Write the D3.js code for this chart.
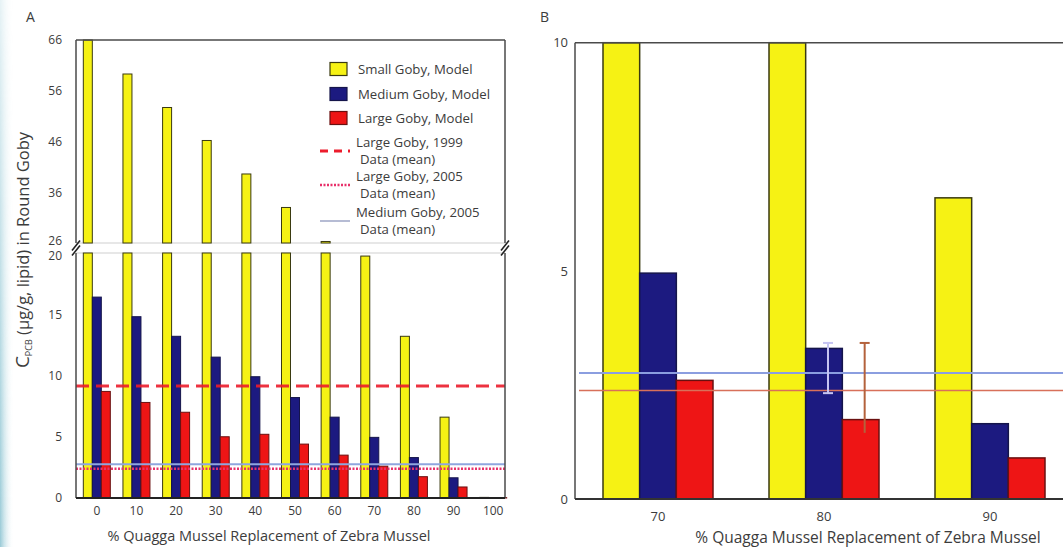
<!DOCTYPE html>
<meta charset="utf-8">
<style>
    body { margin: 0; background: #ffffff; }
    text { font-family: "Open Sans", sans-serif; fill: #3c3c3c; }
    .axisA .tick text { font-size: 12px; }
    .axisB .tick text { font-size: 13px; }
    .legend text { font-size: 13.2px; }
</style>
<svg width="1063" height="547"></svg>
<script src="https://cdn.jsdelivr.net/npm/d3@7/dist/d3.min.js"></script>
<script>

    // model output (ug/g lipid)
    var categories = [0, 10, 20, 30, 40, 50, 60, 70, 80, 90, 100];
    var smallModel = [66, 59.3, 52.7, 46.2, 39.6, 33.0, 26.3, 19.75, 13.2, 6.6, 0.05];
    var mediumModel = [16.4, 14.8, 13.2, 11.5, 9.9, 8.2, 6.6, 4.95, 3.3, 1.65, 0.04];
    var largeModel = [8.7, 7.8, 7.0, 5.0, 5.2, 4.4, 3.5, 2.6, 1.74, 0.9, 0.03];

    // field data means
    var large1999Mean = 9.15;
    var large2005Mean = 2.38;
    var medium2005Mean = 2.76;

    // 2005 data range, drawn at the 80% group in panel B
    var errCategory = 80;
    var mediumErr = [2.32, 3.42];
    var largeErr = [1.45, 3.42];

    var zoomCategories = [70, 80, 90];
    var lowerTicks = [0, 5, 10, 15, 20];
    var upperTicks = [26, 36, 46, 56, 66];
    var zoomTicks = [0, 5, 10];

    var series = ["small", "medium", "large"];
    var seriesLabels = ["Small Goby, Model", "Medium Goby, Model", "Large Goby, Model"];
    var fills = { small: "#f6f214", medium: "#1c1a80", large: "#ee1515" };
    var strokes = { small: "#3a3a10", medium: "#15154a", large: "#6a1010" };

    var rows = [];
    categories.forEach(function (c, i) {
        rows.push({ cat: c, key: "small", v: smallModel[i] });
        rows.push({ cat: c, key: "medium", v: mediumModel[i] });
        rows.push({ cat: c, key: "large", v: largeModel[i] });
    });

    var svg = d3.select("svg");

    // faint slide background on the left edge
    var defs = svg.append("defs");
    var grad = defs.append("linearGradient").attr("id", "edge")
        .attr("x1", 0).attr("x2", 1).attr("y1", 0).attr("y2", 0);
    grad.append("stop").attr("offset", 0).attr("stop-color", "#7dbccc").attr("stop-opacity", 0.8);
    grad.append("stop").attr("offset", 1).attr("stop-color", "#ffffff").attr("stop-opacity", 0);
    var vgrad = defs.append("linearGradient").attr("id", "edgeMask")
        .attr("x1", 0).attr("x2", 0).attr("y1", 0).attr("y2", 1);
    vgrad.append("stop").attr("offset", 0).attr("stop-color", "#fff").attr("stop-opacity", 0.25);
    vgrad.append("stop").attr("offset", 1).attr("stop-color", "#fff").attr("stop-opacity", 1);
    defs.append("mask").attr("id", "fade")
        .append("rect").attr("width", 20).attr("height", 547).attr("fill", "url(#edgeMask)");
    svg.append("rect").attr("width", 14).attr("height", 547)
        .attr("fill", "url(#edge)").attr("mask", "url(#fade)");

    // ---------------- panel A ----------------
    var aLeft = 76, aRight = 505, aTop = 40, aBottom = 498;

    var x = d3.scaleBand().domain(categories).range([77, 513]);
    var xs = d3.scaleBand().domain(series)
        .range([x.bandwidth() / 2 - 13.5, x.bandwidth() / 2 + 13.5]);
    var yLow = d3.scaleLinear().domain([0, 20]).range([aBottom, 253]);
    var yHigh = d3.scaleLinear().domain([26, 66]).range([243, aTop]);

    var gA = svg.append("g");

    // guide lines at the break
    gA.selectAll("line.brk")
        .data([yHigh(26), yLow(20)])
        .enter().append("line")
        .attr("x1", aLeft).attr("x2", aRight)
        .attr("y1", function (d) { return d; }).attr("y2", function (d) { return d; })
        .attr("stroke", "#cfcfcf").attr("stroke-width", 1);

    // lower part of the bars
    gA.append("g").selectAll("rect")
        .data(rows)
        .enter().append("rect")
        .attr("x", function (d) { return x(d.cat) + xs(d.key); })
        .attr("width", xs.bandwidth())
        .attr("y", function (d) { return yLow(Math.min(d.v, 20)); })
        .attr("height", function (d) { return yLow(0) - yLow(Math.min(d.v, 20)); })
        .attr("fill", function (d) { return fills[d.key]; })
        .attr("stroke", function (d) { return strokes[d.key]; })
        .attr("stroke-width", 1);

    // upper part of the bars, above the break
    gA.append("g").selectAll("rect")
        .data(rows.filter(function (d) { return d.v > 26; }))
        .enter().append("rect")
        .attr("x", function (d) { return x(d.cat) + xs(d.key); })
        .attr("width", xs.bandwidth())
        .attr("y", function (d) { return yHigh(Math.min(d.v, 66)); })
        .attr("height", function (d) { return yHigh(26) - yHigh(Math.min(d.v, 66)); })
        .attr("fill", function (d) { return fills[d.key]; })
        .attr("stroke", function (d) { return strokes[d.key]; })
        .attr("stroke-width", 1);

    // data means
    gA.append("line")
        .attr("x1", aLeft).attr("x2", aRight)
        .attr("y1", yLow(large1999Mean)).attr("y2", yLow(large1999Mean))
        .attr("stroke", "#ec1c2c").attr("stroke-width", 3)
        .attr("stroke-dasharray", "13,7").attr("opacity", 0.9);
    gA.append("line")
        .attr("x1", aLeft).attr("x2", aRight)
        .attr("y1", yLow(medium2005Mean)).attr("y2", yLow(medium2005Mean))
        .attr("stroke", "#8fa6de").attr("stroke-width", 2);
    gA.append("line")
        .attr("x1", aLeft).attr("x2", aRight)
        .attr("y1", yLow(large2005Mean)).attr("y2", yLow(large2005Mean))
        .attr("stroke", "#e8306a").attr("stroke-width", 2.5)
        .attr("stroke-dasharray", "2,1.5");

    // frame with break
    var frame = "#4a4a4a";
    [aLeft, aRight].forEach(function (xx) {
        gA.append("line").attr("x1", xx).attr("x2", xx)
            .attr("y1", aTop).attr("y2", yHigh(26)).attr("stroke", frame).attr("stroke-width", 1.5);
        gA.append("line").attr("x1", xx).attr("x2", xx)
            .attr("y1", yLow(20)).attr("y2", aBottom).attr("stroke", frame).attr("stroke-width", 1.5);
        [yHigh(26) + 2.5, yLow(20) - 2.5].forEach(function (yy) {
            gA.append("line")
                .attr("x1", xx - 4).attr("x2", xx + 4)
                .attr("y1", yy + 5).attr("y2", yy - 5)
                .attr("stroke", "#222").attr("stroke-width", 1.6);
        });
    });
    gA.append("line").attr("x1", aLeft).attr("x2", aRight)
        .attr("y1", aTop).attr("y2", aTop).attr("stroke", frame).attr("stroke-width", 1.5);
    gA.append("line").attr("x1", aLeft).attr("x2", aRight)
        .attr("y1", aBottom).attr("y2", aBottom).attr("stroke", "#222").attr("stroke-width", 2);

    // axes
    var ayLow = gA.append("g").attr("class", "axisA")
        .attr("transform", "translate(" + aLeft + ",0)")
        .call(d3.axisLeft(yLow).tickValues(lowerTicks).tickSize(0).tickPadding(14));
    var ayHigh = gA.append("g").attr("class", "axisA")
        .attr("transform", "translate(" + aLeft + ",0)")
        .call(d3.axisLeft(yHigh).tickValues(upperTicks).tickSize(0).tickPadding(14));
    var ax = gA.append("g").attr("class", "axisA")
        .attr("transform", "translate(0," + aBottom + ")")
        .call(d3.axisBottom(x).tickSize(0).tickPadding(8));
    gA.selectAll(".domain").remove();
    ayLow.select(".tick:last-of-type text").attr("dy", "0.55em");
    ayHigh.select(".tick:first-of-type text").attr("dy", "0.1em");

    gA.append("text")
        .attr("x", 269).attr("y", 541)
        .attr("text-anchor", "middle")
        .style("font-size", "14.5px")
        .text("% Quagga Mussel Replacement of Zebra Mussel");

    var yt = gA.append("text")
        .attr("transform", "translate(29,250) rotate(-90)")
        .attr("text-anchor", "middle")
        .style("font-size", "16.5px");
    yt.append("tspan").style("font-size", "19px").text("C");
    yt.append("tspan").attr("dy", 3).style("font-size", "9px").text("PCB");
    yt.append("tspan").attr("dy", -3).text(" (\u00b5g/g, lipid) in Round Goby");

    gA.append("text").attr("x", 26).attr("y", 22)
        .style("font-size", "14px").text("A");

    // legend
    var legend = gA.append("g").attr("class", "legend");
    var lx = 330, tx = 358;
    var swatchY = [69, 94, 118];
    series.forEach(function (s, i) {
        legend.append("rect")
            .attr("x", lx).attr("y", swatchY[i] - 6.5)
            .attr("width", 17).attr("height", 13)
            .attr("fill", fills[s]).attr("stroke", strokes[s]).attr("stroke-width", 1.2);
        legend.append("text").attr("x", tx).attr("y", swatchY[i]).attr("dy", "0.35em")
            .text(seriesLabels[i]);
    });
    var lineEntries = [
        { y: 151, lines: ["Large Goby, 1999", "Data (mean)"], stroke: "#ec1c2c", w: 3, dash: "8,6" },
        { y: 185, lines: ["Large Goby, 2005", "Data (mean)"], stroke: "#e8306a", w: 2.5, dash: "2,1.5" },
        { y: 221, lines: ["Medium Goby, 2005", "Data (mean)"], stroke: "#b6bcd4", w: 2, dash: null }
    ];
    lineEntries.forEach(function (e) {
        legend.append("line")
            .attr("x1", 320).attr("x2", 350)
            .attr("y1", e.y).attr("y2", e.y)
            .attr("stroke", e.stroke).attr("stroke-width", e.w)
            .attr("stroke-dasharray", e.dash);
        legend.append("text").attr("x", tx - 2).attr("y", e.y - 8.5).attr("dy", "0.35em").text(e.lines[0]);
        legend.append("text").attr("x", tx + 2).attr("y", e.y + 8.5).attr("dy", "0.35em").text(e.lines[1]);
    });

    // ---------------- panel B ----------------
    var bLeft = 575, bRight = 1063, bTop = 42.7, bBottom = 499;

    var xB = d3.scaleBand().domain(zoomCategories).range([bLeft, 1073]);
    var xsB = d3.scaleBand().domain(series)
        .range([xB.bandwidth() / 2 - 55, xB.bandwidth() / 2 + 55]);
    var yB = d3.scaleLinear().domain([0, 10]).range([bBottom, bTop]);

    var rowsB = rows.filter(function (d) { return zoomCategories.indexOf(d.cat) >= 0; });
    var gB = svg.append("g");

    gB.append("g").selectAll("rect")
        .data(rowsB)
        .enter().append("rect")
        .attr("x", function (d) { return xB(d.cat) + xsB(d.key); })
        .attr("width", xsB.bandwidth())
        .attr("y", function (d) { return yB(Math.min(d.v, 10)); })
        .attr("height", function (d) { return yB(0) - yB(Math.min(d.v, 10)); })
        .attr("fill", function (d) { return fills[d.key]; })
        .attr("stroke", function (d) { return strokes[d.key]; })
        .attr("stroke-width", 1.5);

    gB.append("line")
        .attr("x1", bLeft + 4).attr("x2", bRight)
        .attr("y1", yB(medium2005Mean)).attr("y2", yB(medium2005Mean))
        .attr("stroke", "#8b9ee0").attr("stroke-width", 2);
    gB.append("line")
        .attr("x1", bLeft + 4).attr("x2", bRight)
        .attr("y1", yB(large2005Mean)).attr("y2", yB(large2005Mean))
        .attr("stroke", "#d8705a").attr("stroke-width", 1.5);

    // error bars for the 2005 data
    var errs = [
        { key: "medium", r: mediumErr, color: "#c6c4f2", caps: [true, true] },
        { key: "large", r: largeErr, color: "#b4623c", caps: [false, true] }
    ];
    errs.forEach(function (e) {
        var cx = xB(errCategory) + xsB(e.key) + xsB.bandwidth() / 2 + 4;
        gB.append("line").attr("x1", cx).attr("x2", cx)
            .attr("y1", yB(e.r[0])).attr("y2", yB(e.r[1]))
            .attr("stroke", e.color).attr("stroke-width", 2);
        e.r.forEach(function (v, i) {
            if (!e.caps[i]) return;
            gB.append("line").attr("x1", cx - 5).attr("x2", cx + 5)
                .attr("y1", yB(v)).attr("y2", yB(v))
                .attr("stroke", e.color).attr("stroke-width", 2);
        });
    });

    gB.append("line").attr("x1", bLeft).attr("x2", bLeft)
        .attr("y1", bTop).attr("y2", bBottom).attr("stroke", frame).attr("stroke-width", 1.5);
    gB.append("line").attr("x1", bLeft).attr("x2", bRight)
        .attr("y1", bTop).attr("y2", bTop).attr("stroke", frame).attr("stroke-width", 1.5);
    gB.append("line").attr("x1", bLeft).attr("x2", bRight)
        .attr("y1", bBottom).attr("y2", bBottom).attr("stroke", "#333").attr("stroke-width", 2);

    gB.append("g").attr("class", "axisB")
        .attr("transform", "translate(" + bLeft + ",0)")
        .call(d3.axisLeft(yB).tickValues(zoomTicks).tickSize(0).tickPadding(7));
    gB.append("g").attr("class", "axisB")
        .attr("transform", "translate(0," + bBottom + ")")
        .call(d3.axisBottom(xB).tickSize(0).tickPadding(13));
    gB.selectAll(".domain").remove();

    gB.append("text")
        .attr("x", 868).attr("y", 543)
        .attr("text-anchor", "middle")
        .style("font-size", "15.5px")
        .text("% Quagga Mussel Replacement of Zebra Mussel");

    gB.append("text").attr("x", 540).attr("y", 22)
        .style("font-size", "14px").text("B");

</script>
